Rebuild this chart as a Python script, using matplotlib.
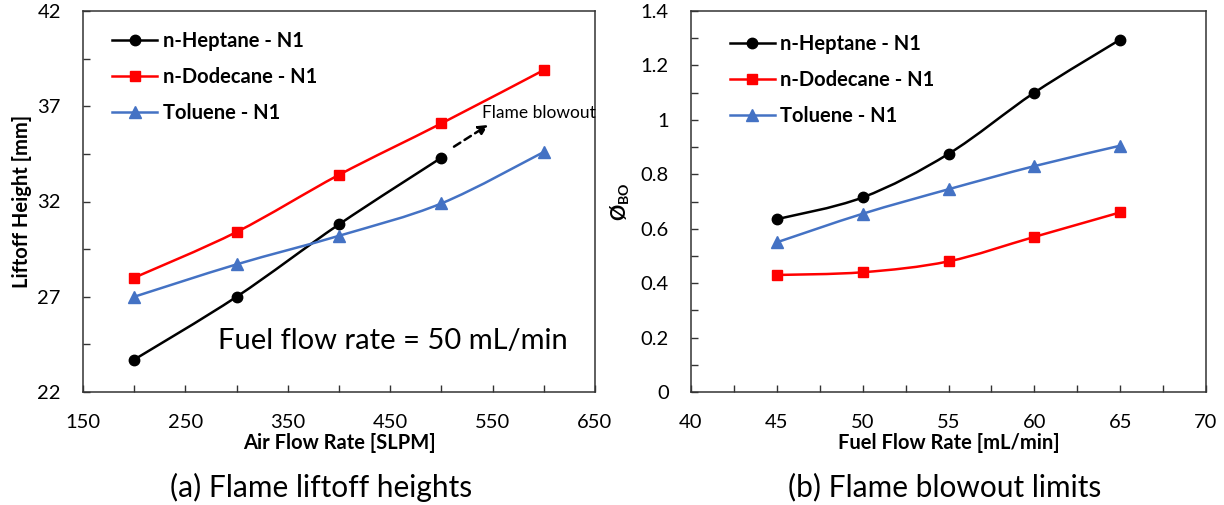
import matplotlib
matplotlib.use("Agg")
import matplotlib.pyplot as plt
from matplotlib.path import Path
from matplotlib.patches import PathPatch
from matplotlib.lines import Line2D
from matplotlib.ticker import FormatStrFormatter
import numpy as np

plt.rcParams['font.family'] = ['Lato', 'DejaVu Sans']
plt.rcParams['mathtext.fontset'] = 'custom'
plt.rcParams['mathtext.rm'] = 'Lato'
plt.rcParams['mathtext.bf'] = 'Lato:bold'

# (a) liftoff height vs air flow, fuel flow 50 mL/min
air_flow = [200, 300, 400, 500, 600]
heptane_lift = [23.7, 27.0, 30.8, 34.3]          # blows out past 500 SLPM
dodecane_lift = [28.0, 30.4, 33.4, 36.1, 38.9]
toluene_lift = [27.0, 28.7, 30.2, 31.9, 34.6]

# (b) blowout equivalence ratio vs fuel flow
fuel_flow = [45, 50, 55, 60, 65]
heptane_phi = [0.635, 0.715, 0.875, 1.10, 1.295]
dodecane_phi = [0.43, 0.44, 0.48, 0.57, 0.66]
toluene_phi = [0.55, 0.655, 0.745, 0.83, 0.905]

labels = ["n-Heptane - N1", "n-Dodecane - N1", "Toluene - N1"]
colors = ["black", "#FF0000", "#4472C4"]
markers = ["o", "s", "^"]
msizes = [7.5, 7.5, 8.5]
LW = 1.8
FS = 14.5


def smooth_line(ax, x, y, color):
    # Excel style smoothed line: cubic bezier through every point
    x = np.asarray(x, float)
    y = np.asarray(y, float)
    pts = np.column_stack([x, y])
    n = len(pts)
    verts = [pts[0]]
    codes = [Path.MOVETO]
    for i in range(n - 1):
        p0 = pts[i - 1] if i > 0 else pts[i]
        p1 = pts[i]
        p2 = pts[i + 1]
        p3 = pts[i + 2] if i + 2 < n else pts[i + 1]
        c1 = p1 + (p2 - p0) / 6.0
        c2 = p2 - (p3 - p1) / 6.0
        verts += [c1, c2, p2]
        codes += [Path.CURVE4] * 3
    ax.add_patch(PathPatch(Path(verts, codes), facecolor="none",
                           edgecolor=color, lw=LW, zorder=2))


def draw_series(ax, xs, ys_list):
    for ys, c, m, ms in zip(ys_list, colors, markers, msizes):
        xx = xs[:len(ys)]
        smooth_line(ax, xx, ys, c)
        ax.plot(xx, ys, linestyle="none", marker=m, color=c, ms=ms, zorder=3)


def style_axes(ax):
    for s in ax.spines.values():
        s.set_color("#333333")
        s.set_linewidth(1.1)
    ax.tick_params(which="both", direction="in", length=5, width=1.0,
                   color="#333333", top=False, right=False)
    ax.tick_params(which="major", labelsize=FS, pad=16)


def add_legend(ax, x0, y0):
    handles = [Line2D([], [], color=c, marker=m, ms=ms, lw=LW)
               for c, m, ms in zip(colors, markers, msizes)]
    leg = ax.legend(handles, labels, loc="upper left", bbox_to_anchor=(x0, y0),
                    frameon=False, borderpad=0, borderaxespad=0,
                    handlelength=2.25, handletextpad=0.25, labelspacing=0.8,
                    prop={"weight": "bold", "size": FS})
    return leg


fig = plt.figure(figsize=(12.24, 5.05), dpi=100)
ax1 = fig.add_axes([83 / 1224, 113 / 505, 512 / 1224, 381 / 505])
ax2 = fig.add_axes([691 / 1224, 113 / 505, 515 / 1224, 381 / 505])

# ---- (a) liftoff heights
draw_series(ax1, air_flow, [heptane_lift, dodecane_lift, toluene_lift])
ax1.set_xlim(150, 650)
ax1.set_ylim(22, 42)
ax1.set_xticks(np.arange(150, 651, 100))
ax1.set_xticks(np.arange(200, 601, 100), minor=True)
ax1.set_yticks(np.arange(22, 43, 5))
ax1.set_yticks(np.arange(24.5, 40, 5), minor=True)
style_axes(ax1)
ax1.set_xlabel("Air Flow Rate [SLPM]", fontsize=FS, fontweight="bold", labelpad=1)
ax1.set_ylabel("Liftoff Height [mm]", fontsize=FS, fontweight="bold", labelpad=4)
add_legend(ax1, 0.057, 0.948)
ax1.text(282, 24.7, "Fuel flow rate = 50 mL/min", fontsize=21, va="center")
ax1.annotate("", xy=(548, 36.1), xytext=(510, 34.8),
             arrowprops=dict(arrowstyle="-|>", color="black", lw=1.8,
                             linestyle=(0, (3, 2)), mutation_scale=14))
ax1.text(540, 36.65, "Flame blowout", fontsize=12.5, va="center", clip_on=False)

# ---- (b) blowout limits
draw_series(ax2, fuel_flow, [heptane_phi, dodecane_phi, toluene_phi])
ax2.set_xlim(40, 70)
ax2.set_ylim(0, 1.4)
ax2.set_xticks(np.arange(40, 71, 5))
ax2.set_xticks(np.arange(42.5, 70, 5), minor=True)
ax2.set_yticks(np.arange(0, 1.41, 0.2))
ax2.set_yticks(np.arange(0.1, 1.4, 0.2), minor=True)
ax2.yaxis.set_major_formatter(FormatStrFormatter("%g"))
style_axes(ax2)
ax2.set_xlabel("Fuel Flow Rate [mL/min]", fontsize=FS, fontweight="bold", labelpad=1)
ax2.set_ylabel(r"Ø$_{\mathbf{BO}}$", fontsize=FS, fontweight="bold", labelpad=6)
add_legend(ax2, 0.075, 0.94)

fig.text(321 / 1224, 1 - 487 / 505, "(a) Flame liftoff heights", fontsize=21.5,
         ha="center", va="center")
fig.text(945 / 1224, 1 - 487 / 505, "(b) Flame blowout limits", fontsize=21.5,
         ha="center", va="center")

fig.savefig("out.png", dpi=100)
